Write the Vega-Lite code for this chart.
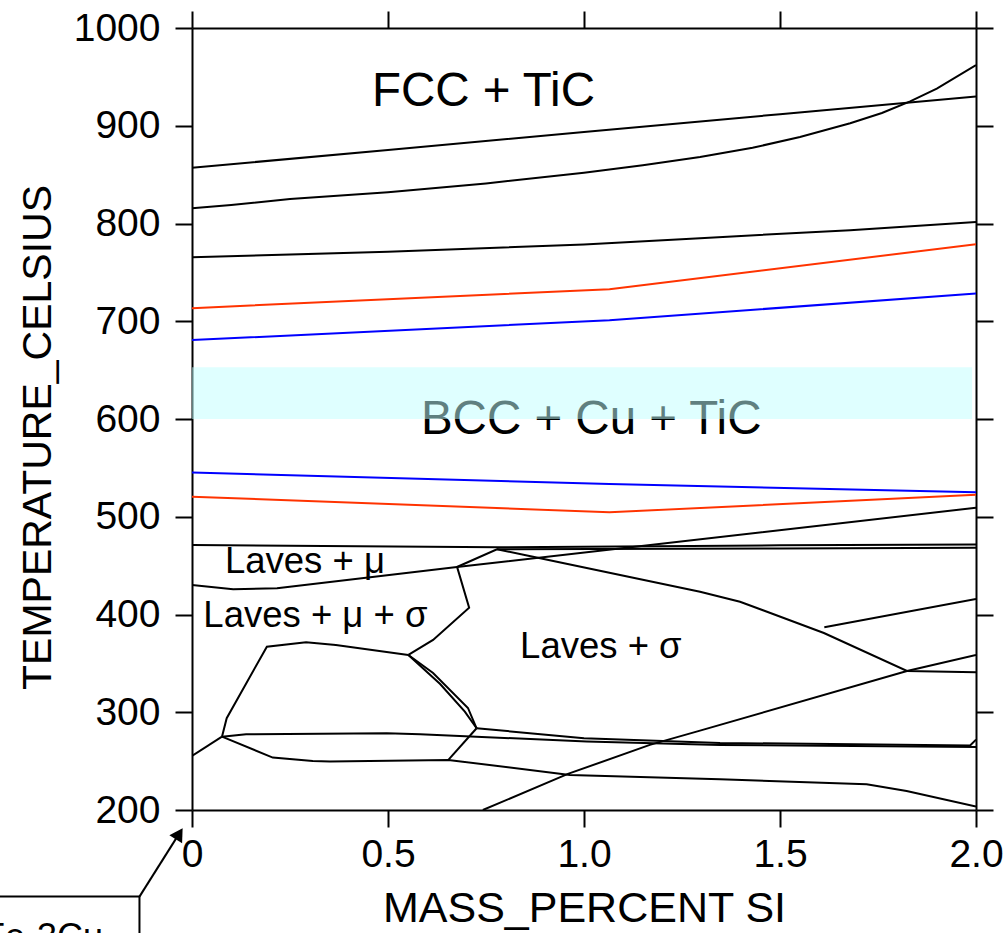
{
  "$schema": "https://vega.github.io/schema/vega-lite/v6.json",
  "width": 784,
  "height": 782,
  "autosize": {"type": "none"},
  "padding": {"left": 192, "top": 28, "right": 27, "bottom": 123},
  "background": "white",
  "config": {
    "view": {"stroke": null},
    "font": "Liberation Sans",
    "axis": {
      "domainColor": "black", "domainWidth": 2, "tickColor": "black", "tickWidth": 2, "tickSize": 17,
      "labelFont": "Liberation Sans", "labelFontSize": 39, "labelColor": "black",
      "titleFont": "Liberation Sans", "titleFontSize": 41, "titleColor": "black", "titleFontWeight": "normal",
      "grid": false
    }
  },
  "datasets": {
    "curves": [
      {"curve": "A", "group": "boundary", "seq": 0, "si": 0, "temp": 857},
      {"curve": "A", "group": "boundary", "seq": 1, "si": 0.5, "temp": 875.3},
      {"curve": "A", "group": "boundary", "seq": 2, "si": 1.0, "temp": 893.5},
      {"curve": "A", "group": "boundary", "seq": 3, "si": 1.5, "temp": 911.8},
      {"curve": "A", "group": "boundary", "seq": 4, "si": 2.0, "temp": 930},
      {"curve": "B", "group": "boundary", "seq": 0, "si": 0, "temp": 815.6},
      {"curve": "B", "group": "boundary", "seq": 1, "si": 0.1, "temp": 819},
      {"curve": "B", "group": "boundary", "seq": 2, "si": 0.25, "temp": 825},
      {"curve": "B", "group": "boundary", "seq": 3, "si": 0.5, "temp": 832},
      {"curve": "B", "group": "boundary", "seq": 4, "si": 0.75, "temp": 841},
      {"curve": "B", "group": "boundary", "seq": 5, "si": 1.0, "temp": 852},
      {"curve": "B", "group": "boundary", "seq": 6, "si": 1.15, "temp": 859.5},
      {"curve": "B", "group": "boundary", "seq": 7, "si": 1.296, "temp": 868},
      {"curve": "B", "group": "boundary", "seq": 8, "si": 1.43, "temp": 877.5},
      {"curve": "B", "group": "boundary", "seq": 9, "si": 1.551, "temp": 888.5},
      {"curve": "B", "group": "boundary", "seq": 10, "si": 1.679, "temp": 902.5},
      {"curve": "B", "group": "boundary", "seq": 11, "si": 1.76, "temp": 913},
      {"curve": "B", "group": "boundary", "seq": 12, "si": 1.832, "temp": 925},
      {"curve": "B", "group": "boundary", "seq": 13, "si": 1.9, "temp": 938},
      {"curve": "B", "group": "boundary", "seq": 14, "si": 2.0, "temp": 962},
      {"curve": "C", "group": "boundary", "seq": 0, "si": 0, "temp": 765.5},
      {"curve": "C", "group": "boundary", "seq": 1, "si": 0.5, "temp": 771},
      {"curve": "C", "group": "boundary", "seq": 2, "si": 1.0, "temp": 778.5},
      {"curve": "C", "group": "boundary", "seq": 3, "si": 1.296, "temp": 785},
      {"curve": "C", "group": "boundary", "seq": 4, "si": 1.679, "temp": 793.2},
      {"curve": "C", "group": "boundary", "seq": 5, "si": 2.0, "temp": 801.6},
      {"curve": "R1", "group": "red", "seq": 0, "si": 0, "temp": 713.4},
      {"curve": "R1", "group": "red", "seq": 1, "si": 1.065, "temp": 732.7},
      {"curve": "R1", "group": "red", "seq": 2, "si": 2.0, "temp": 778.8},
      {"curve": "U1", "group": "blue", "seq": 0, "si": 0, "temp": 680.7},
      {"curve": "U1", "group": "blue", "seq": 1, "si": 1.065, "temp": 701},
      {"curve": "U1", "group": "blue", "seq": 2, "si": 2.0, "temp": 728.4},
      {"curve": "U2", "group": "blue", "seq": 0, "si": 0, "temp": 545.3},
      {"curve": "U2", "group": "blue", "seq": 1, "si": 1.065, "temp": 533.4},
      {"curve": "U2", "group": "blue", "seq": 2, "si": 2.0, "temp": 525},
      {"curve": "R2", "group": "red", "seq": 0, "si": 0, "temp": 520.5},
      {"curve": "R2", "group": "red", "seq": 1, "si": 1.065, "temp": 504.5},
      {"curve": "R2", "group": "red", "seq": 2, "si": 2.0, "temp": 522.5},
      {"curve": "D", "group": "boundary", "seq": 0, "si": 0, "temp": 430.2},
      {"curve": "D", "group": "boundary", "seq": 1, "si": 0.105, "temp": 425.8},
      {"curve": "D", "group": "boundary", "seq": 2, "si": 0.217, "temp": 426.8},
      {"curve": "D", "group": "boundary", "seq": 3, "si": 0.676, "temp": 448.6},
      {"curve": "D", "group": "boundary", "seq": 4, "si": 2.0, "temp": 509.2},
      {"curve": "E", "group": "boundary", "seq": 0, "si": 0, "temp": 471},
      {"curve": "E", "group": "boundary", "seq": 1, "si": 0.78, "temp": 468.8},
      {"curve": "E", "group": "boundary", "seq": 2, "si": 1.5, "temp": 470.8},
      {"curve": "E", "group": "boundary", "seq": 3, "si": 2.0, "temp": 471.7},
      {"curve": "F", "group": "boundary", "seq": 0, "si": 0.676, "temp": 448.6},
      {"curve": "F", "group": "boundary", "seq": 1, "si": 0.778, "temp": 466.7},
      {"curve": "F", "group": "boundary", "seq": 2, "si": 1.5, "temp": 467.6},
      {"curve": "F", "group": "boundary", "seq": 3, "si": 2.0, "temp": 468.3},
      {"curve": "K", "group": "boundary", "seq": 0, "si": 0.778, "temp": 466.7},
      {"curve": "K", "group": "boundary", "seq": 1, "si": 0.87, "temp": 459.1},
      {"curve": "K", "group": "boundary", "seq": 2, "si": 1.296, "temp": 423.3},
      {"curve": "K", "group": "boundary", "seq": 3, "si": 1.398, "temp": 413.1},
      {"curve": "K", "group": "boundary", "seq": 4, "si": 1.612, "temp": 381.1},
      {"curve": "K", "group": "boundary", "seq": 5, "si": 1.824, "temp": 342.2},
      {"curve": "K", "group": "boundary", "seq": 6, "si": 2.0, "temp": 340.9},
      {"curve": "S", "group": "boundary", "seq": 0, "si": 1.613, "temp": 386.9},
      {"curve": "S", "group": "boundary", "seq": 1, "si": 2.0, "temp": 415.9},
      {"curve": "Dg", "group": "boundary", "seq": 0, "si": 0.742, "temp": 200},
      {"curve": "Dg", "group": "boundary", "seq": 1, "si": 0.959, "temp": 236.9},
      {"curve": "Dg", "group": "boundary", "seq": 2, "si": 1.168, "temp": 266.6},
      {"curve": "Dg", "group": "boundary", "seq": 3, "si": 1.296, "temp": 281.2},
      {"curve": "Dg", "group": "boundary", "seq": 4, "si": 1.824, "temp": 342.2},
      {"curve": "Dg", "group": "boundary", "seq": 5, "si": 2.0, "temp": 358.6},
      {"curve": "L1", "group": "boundary", "seq": 0, "si": 0, "temp": 255.3},
      {"curve": "L1", "group": "boundary", "seq": 1, "si": 0.0765, "temp": 275},
      {"curve": "LT", "group": "boundary", "seq": 0, "si": 0.0765, "temp": 275},
      {"curve": "LT", "group": "boundary", "seq": 1, "si": 0.0885, "temp": 293.9},
      {"curve": "LT", "group": "boundary", "seq": 2, "si": 0.191, "temp": 367.1},
      {"curve": "LT", "group": "boundary", "seq": 3, "si": 0.291, "temp": 371.6},
      {"curve": "LT", "group": "boundary", "seq": 4, "si": 0.367, "temp": 368.8},
      {"curve": "LT", "group": "boundary", "seq": 5, "si": 0.552, "temp": 358.6},
      {"curve": "LRo", "group": "boundary", "seq": 0, "si": 0.552, "temp": 358.6},
      {"curve": "LRo", "group": "boundary", "seq": 1, "si": 0.615, "temp": 340.2},
      {"curve": "LRo", "group": "boundary", "seq": 2, "si": 0.704, "temp": 304.4},
      {"curve": "LRo", "group": "boundary", "seq": 3, "si": 0.726, "temp": 283.6},
      {"curve": "LRi", "group": "boundary", "seq": 0, "si": 0.552, "temp": 358.6},
      {"curve": "LRi", "group": "boundary", "seq": 1, "si": 0.633, "temp": 328.9},
      {"curve": "LRi", "group": "boundary", "seq": 2, "si": 0.696, "temp": 300.6},
      {"curve": "LRi", "group": "boundary", "seq": 3, "si": 0.726, "temp": 283.6},
      {"curve": "LM", "group": "boundary", "seq": 0, "si": 0.552, "temp": 358.6},
      {"curve": "LM", "group": "boundary", "seq": 1, "si": 0.615, "temp": 374},
      {"curve": "LM", "group": "boundary", "seq": 2, "si": 0.707, "temp": 407},
      {"curve": "LM", "group": "boundary", "seq": 3, "si": 0.676, "temp": 449},
      {"curve": "G", "group": "boundary", "seq": 0, "si": 0.0765, "temp": 275},
      {"curve": "G", "group": "boundary", "seq": 1, "si": 0.138, "temp": 277.5},
      {"curve": "G", "group": "boundary", "seq": 2, "si": 0.497, "temp": 278.5},
      {"curve": "G", "group": "boundary", "seq": 3, "si": 0.582, "temp": 277.5},
      {"curve": "G", "group": "boundary", "seq": 4, "si": 1.007, "temp": 270},
      {"curve": "G", "group": "boundary", "seq": 5, "si": 1.347, "temp": 266.5},
      {"curve": "G", "group": "boundary", "seq": 6, "si": 2.0, "temp": 264.5},
      {"curve": "H", "group": "boundary", "seq": 0, "si": 0.726, "temp": 283.6},
      {"curve": "H", "group": "boundary", "seq": 1, "si": 1.0, "temp": 273.5},
      {"curve": "H", "group": "boundary", "seq": 2, "si": 1.347, "temp": 268.6},
      {"curve": "H", "group": "boundary", "seq": 3, "si": 1.985, "temp": 266},
      {"curve": "H", "group": "boundary", "seq": 4, "si": 2.0, "temp": 272},
      {"curve": "Lo", "group": "boundary", "seq": 0, "si": 0.0765, "temp": 275},
      {"curve": "Lo", "group": "boundary", "seq": 1, "si": 0.206, "temp": 253.6},
      {"curve": "Lo", "group": "boundary", "seq": 2, "si": 0.308, "temp": 250.2},
      {"curve": "Lo", "group": "boundary", "seq": 3, "si": 0.352, "temp": 249.5},
      {"curve": "Lo", "group": "boundary", "seq": 4, "si": 0.654, "temp": 251.2},
      {"curve": "Lo", "group": "boundary", "seq": 5, "si": 0.964, "temp": 235.9},
      {"curve": "Lo", "group": "boundary", "seq": 6, "si": 1.347, "temp": 231.5},
      {"curve": "Lo", "group": "boundary", "seq": 7, "si": 1.721, "temp": 226.4},
      {"curve": "Lo", "group": "boundary", "seq": 8, "si": 1.823, "temp": 219.5},
      {"curve": "Lo", "group": "boundary", "seq": 9, "si": 2.0, "temp": 203.5},
      {"curve": "Cn", "group": "boundary", "seq": 0, "si": 0.654, "temp": 251.2},
      {"curve": "Cn", "group": "boundary", "seq": 1, "si": 0.726, "temp": 283.6}
    ],
    "majorLabels": [
      {"label": "FCC + TiC", "si": 0.459, "temp": 920},
      {"label": "BCC + Cu + TiC", "si": 0.584, "temp": 584.6}
    ],
    "minorLabels": [
      {"label": "Laves + μ", "si": 0.084, "temp": 442.1},
      {"label": "Laves + μ + σ", "si": 0.029, "temp": 387.5},
      {"label": "Laves + σ", "si": 0.837, "temp": 355.2}
    ],
    "band": [{"si0": 0, "si1": 1.99, "t0": 600, "t1": 653}],
    "box": [{"si0": -0.7, "si1": -0.134, "t0": 0, "t1": 111.4}],
    "boxText": [{"label": "Fe-3Cu", "si": -0.533, "temp": 58}],
    "arrow": [
      {"si": -0.134, "temp": 111.4},
      {"si": -0.0327, "temp": 175.8}
    ],
    "arrowHead": [{"si": -0.0327, "temp": 175.8}]
  },
  "layer": [
    {
      "data": {"name": "majorLabels"},
      "mark": {"type": "text", "align": "left", "baseline": "alphabetic", "fontSize": 47.5, "font": "Liberation Sans", "color": "black"},
      "encoding": {
        "x": {"field": "si", "type": "quantitative", "scale": {"domain": [0, 2], "nice": false, "zero": false}, "axis": null},
        "y": {"field": "temp", "type": "quantitative", "scale": {"domain": [200, 1000], "nice": false, "zero": false}, "axis": null},
        "text": {"field": "label"}
      }
    },
    {
      "data": {"name": "minorLabels"},
      "mark": {"type": "text", "align": "left", "baseline": "alphabetic", "fontSize": 36.5, "font": "Liberation Sans", "color": "black"},
      "encoding": {
        "x": {"field": "si", "type": "quantitative", "scale": {"domain": [0, 2], "nice": false, "zero": false}, "axis": null},
        "y": {"field": "temp", "type": "quantitative", "scale": {"domain": [200, 1000], "nice": false, "zero": false}, "axis": null},
        "text": {"field": "label"}
      }
    },
    {
      "data": {"name": "band"},
      "mark": {"type": "rect", "color": "#c0ffff", "opacity": 0.5},
      "encoding": {
        "x": {"field": "si0", "type": "quantitative", "scale": {"domain": [0, 2], "nice": false, "zero": false},
              "axis": {"orient": "top", "values": [0, 0.5, 1, 1.5, 2], "labels": false, "title": null}},
        "x2": {"field": "si1"},
        "y": {"field": "t0", "type": "quantitative", "scale": {"domain": [200, 1000], "nice": false, "zero": false},
              "axis": {"orient": "right", "values": [200, 300, 400, 500, 600, 700, 800, 900, 1000], "labels": false, "title": null}},
        "y2": {"field": "t1"}
      }
    },
    {
      "data": {"name": "curves"},
      "mark": {"type": "line", "strokeWidth": 2, "clip": true},
      "encoding": {
        "x": {"field": "si", "type": "quantitative", "scale": {"domain": [0, 2], "nice": false, "zero": false},
              "axis": {"orient": "bottom", "values": [0, 0.5, 1, 1.5, 2], "labelExpr": "datum.value == 0 ? '0' : format(datum.value, '.1f')",
                       "labelFlush": false, "labelOverlap": false, "labelBound": false, "labelPadding": 8,
                       "title": "MASS_PERCENT SI", "titleFontSize": 43, "titlePadding": 13}},
        "y": {"field": "temp", "type": "quantitative", "scale": {"domain": [200, 1000], "nice": false, "zero": false},
              "axis": {"orient": "left", "values": [200, 300, 400, 500, 600, 700, 800, 900, 1000], "format": "d", "labelPadding": 15,
                       "labelFlush": false, "labelOverlap": false, "title": "TEMPERATURE_CELSIUS", "titleFontSize": 41,
                       "titlePadding": 14, "titleY": 409}},
        "detail": {"field": "curve"},
        "order": {"field": "seq", "type": "quantitative"},
        "color": {"field": "group", "type": "nominal", "scale": {"domain": ["boundary", "red", "blue"], "range": ["#000000", "#ff3300", "#0000ff"]}, "legend": null}
      }
    },
    {
      "data": {"name": "box"},
      "mark": {"type": "rect", "fill": "white", "stroke": "black", "strokeWidth": 2},
      "encoding": {
        "x": {"field": "si0", "type": "quantitative", "scale": {"domain": [0, 2], "nice": false, "zero": false}, "axis": null},
        "x2": {"field": "si1"},
        "y": {"field": "t0", "type": "quantitative", "scale": {"domain": [200, 1000], "nice": false, "zero": false}, "axis": null},
        "y2": {"field": "t1"}
      }
    },
    {
      "data": {"name": "boxText"},
      "mark": {"type": "text", "align": "left", "baseline": "alphabetic", "fontSize": 36, "font": "Liberation Sans", "color": "black"},
      "encoding": {
        "x": {"field": "si", "type": "quantitative", "scale": {"domain": [0, 2], "nice": false, "zero": false}, "axis": null},
        "y": {"field": "temp", "type": "quantitative", "scale": {"domain": [200, 1000], "nice": false, "zero": false}, "axis": null},
        "text": {"field": "label"}
      }
    },
    {
      "data": {"name": "arrow"},
      "mark": {"type": "line", "color": "black", "strokeWidth": 2},
      "encoding": {
        "x": {"field": "si", "type": "quantitative", "scale": {"domain": [0, 2], "nice": false, "zero": false}, "axis": null},
        "y": {"field": "temp", "type": "quantitative", "scale": {"domain": [200, 1000], "nice": false, "zero": false}, "axis": null}
      }
    },
    {
      "data": {"name": "arrowHead"},
      "mark": {"type": "point", "shape": "triangle-up", "filled": true, "color": "black", "opacity": 1, "size": 225, "angle": 32},
      "encoding": {
        "x": {"field": "si", "type": "quantitative", "scale": {"domain": [0, 2], "nice": false, "zero": false}, "axis": null},
        "y": {"field": "temp", "type": "quantitative", "scale": {"domain": [200, 1000], "nice": false, "zero": false}, "axis": null}
      }
    }
  ],
  "resolve": {"axis": {"x": "independent", "y": "independent"}}
}
